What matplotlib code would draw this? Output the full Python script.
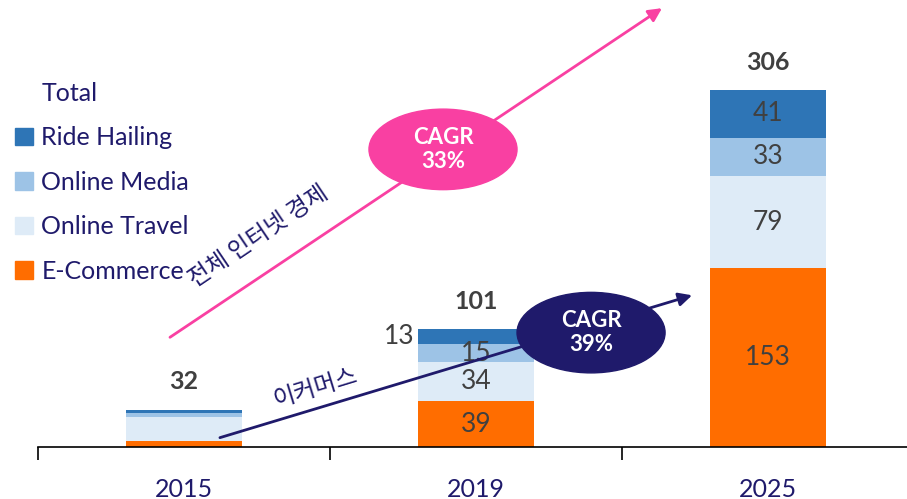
import numpy as np
import matplotlib
matplotlib.use("Agg")
import matplotlib.pyplot as plt
from matplotlib.patches import Ellipse, Patch

plt.rcParams["font.family"] = ["Lato", "Noto Sans CJK KR", "DejaVu Sans"]

years = ["2015", "2019", "2025"]
ecommerce = [5, 39, 153]
travel = [21, 34, 79]
media = [3, 15, 33]
ride = [3, 13, 41]
totals = [32, 101, 306]

series = ["E-Commerce", "Online Travel", "Online Media", "Ride Hailing"]
colors = ["#FF6D00", "#DEEBF7", "#9DC3E6", "#2E75B6"]
navy = "#1F1A6B"
pink = "#F940A2"
grey = "#404040"

fig = plt.figure(figsize=(9.07, 4.99), dpi=100)
ax = fig.add_axes([38 / 907, 52 / 499, 869 / 907, 447 / 499])

x = np.arange(len(years))
stack = [ecommerce, travel, media, ride]
bottom = np.zeros(len(years))
for vals, name, col in zip(stack, series, colors):
    ax.bar(x, vals, 0.4, bottom=bottom, color=col, label=name)
    for i, v in enumerate(vals):
        if i == 0:
            continue
        yc = bottom[i] + v / 2
        if i == 1 and name == "Ride Hailing":
            ax.text(x[i] - 0.21, yc, str(v), ha="right", va="center",
                    fontsize=19, color=grey)
        else:
            ax.text(x[i], yc, str(v), ha="center", va="center",
                    fontsize=19, color=grey)
    bottom += vals

for i, t in enumerate(totals):
    ax.text(x[i], t + 14, str(t), ha="center", va="bottom",
            fontsize=18, fontweight="bold", color=grey)

ax.set_xlim(-0.5, 2.476)
ax.set_ylim(0, 383)
for s in ["top", "right", "left"]:
    ax.spines[s].set_visible(False)
ax.spines["bottom"].set_color("black")
ax.spines["bottom"].set_linewidth(1.2)
ax.set_yticks([])
ax.set_xticks(x)
ax.set_xticklabels(years, fontsize=18, color=navy)
ax.tick_params(axis="x", which="major", length=0, pad=22)
ax.set_xticks([-0.5, 0.5, 1.5], minor=True)
ax.tick_params(axis="x", which="minor", length=9, width=1.2, direction="out")

# growth arrows
ax.annotate("", xy=(1.637, 376), xytext=(-0.048, 94),
            arrowprops=dict(arrowstyle="-|>", color=pink, lw=2,
                            mutation_scale=20, shrinkA=0, shrinkB=0))
ax.annotate("", xy=(1.740, 130), xytext=(0.123, 8),
            arrowprops=dict(arrowstyle="-|>", color=navy, lw=2,
                            mutation_scale=20, shrinkA=0, shrinkB=0))

ax.add_patch(Ellipse((0.887, 255), 0.507, 69, color=pink, zorder=5))
ax.text(0.887, 255, "CAGR\n33%", ha="center", va="center", color="white",
        fontsize=16, fontweight="bold", linespacing=1.15, zorder=6)
ax.add_patch(Ellipse((1.394, 98), 0.507, 69, color=navy, zorder=5))
ax.text(1.394, 98, "CAGR\n39%", ha="center", va="center", color="white",
        fontsize=16, fontweight="bold", linespacing=1.15, zorder=6)

ax.text(0.255, 180, "전체 인터넷 경제", rotation=34, ha="center", va="center",
        fontsize=17, color=navy, family=["Noto Sans CJK KR", "DejaVu Sans"])
ax.text(0.45, 50, "이커머스", rotation=17, ha="center", va="center",
        fontsize=17, color=navy, family=["Noto Sans CJK KR", "DejaVu Sans"])

handles = [Patch(color="none")] + [Patch(color=c) for c in colors[::-1]]
labels = ["Total"] + series[::-1]
leg = fig.legend(handles, labels, loc="upper left",
                 bbox_to_anchor=(15 / 907, 1 - 82 / 499), frameon=False,
                 borderpad=0, borderaxespad=0,
                 fontsize=18, labelcolor=navy, handlelength=0.7,
                 handleheight=0.7, handletextpad=0.35, labelspacing=0.86)

fig.savefig("out.png", dpi=100)
